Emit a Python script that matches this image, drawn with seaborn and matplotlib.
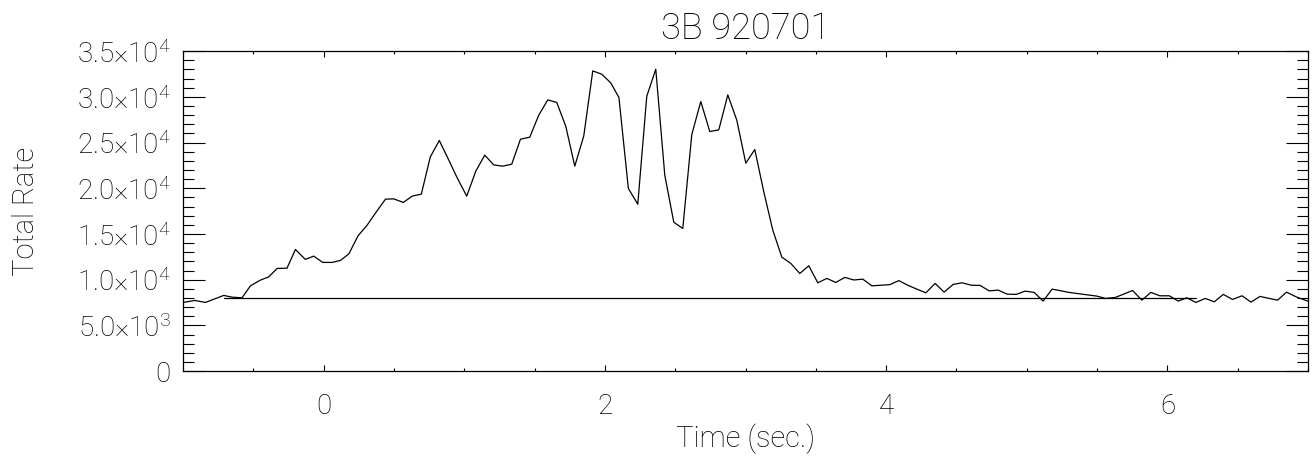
import matplotlib
matplotlib.use("Agg")
import matplotlib.pyplot as plt
import matplotlib.ticker as mticker
import numpy as np
import pandas as pd
import seaborn as sns

# light curve (64 ms bins)
time = [-1.00, -0.915, -0.84, -0.71, -0.65, -0.58, -0.52, -0.45, -0.39, -0.33,
        -0.26, -0.20, -0.13, -0.07, -0.006, 0.06, 0.12, 0.18, 0.245, 0.31,
        0.37, 0.44, 0.50, 0.567, 0.63, 0.695, 0.759, 0.823, 0.887, 0.95,
        1.018, 1.082, 1.146, 1.21, 1.274, 1.338, 1.40, 1.466, 1.53, 1.594,
        1.658, 1.722, 1.786, 1.85, 1.914, 1.978, 2.042, 2.10, 2.167, 2.234,
        2.298, 2.362, 2.426, 2.49, 2.554, 2.618, 2.682, 2.746, 2.81, 2.874,
        2.938, 3.002, 3.066, 3.13, 3.194, 3.258, 3.322, 3.386, 3.45, 3.514,
        3.578, 3.642, 3.706, 3.77, 3.834, 3.898, 3.962, 4.026, 4.09, 4.153,
        4.218, 4.282, 4.348, 4.412, 4.476, 4.54, 4.604, 4.668, 4.732, 4.796,
        4.86, 4.924, 4.988, 5.052, 5.116, 5.18, 5.30, 5.50, 5.56, 5.63,
        5.688, 5.752, 5.818, 5.882, 5.946, 6.013, 6.077, 6.138, 6.202, 6.269,
        6.333, 6.397, 6.463, 6.53, 6.594, 6.658, 6.724, 6.783, 6.847, 6.914,
        6.997]
rate = [7510, 7730, 7510, 8280, 8090, 8020, 9330, 9950, 10310, 11230,
        11260, 13310, 12220, 12580, 11890, 11890, 12110, 12830, 14800, 15970,
        17310, 18810, 18840, 18450, 19140, 19360, 23440, 25230, 23190, 21140,
        19140, 21870, 23620, 22560, 22420, 22640, 25370, 25590, 28000, 29670,
        29390, 26790, 22420, 25730, 32840, 32480, 31530, 29930, 19980, 18260,
        30070, 33030, 21430, 16290, 15600, 25880, 29490, 26210, 26390, 30220,
        27450, 22750, 24240, 19610, 15420, 12470, 11780, 10680, 11520, 9660,
        10140, 9700, 10250, 9970, 10060, 9330, 9390, 9460, 9900, 9400,
        8970, 8560, 9590, 8640, 9480, 9660, 9400, 9370, 8780, 8860,
        8420, 8390, 8750, 8610, 7660, 8970, 8610, 8200, 7950, 8060,
        8420, 8820, 7760, 8610, 8240, 8240, 7660, 8020, 7510, 7950,
        7580, 8390, 7840, 8240, 7550, 8170, 7950, 7760, 8640, 8130,
        7660]

# background level and the interval it was fitted over
bg_time = [-0.71, 6.20]
bg_rate = [7950, 7950]

df = pd.DataFrame({"time": time, "rate": rate})
bg = pd.DataFrame({"time": bg_time, "rate": bg_rate})

sns.set_style("ticks")
plt.rcParams["font.family"] = ["Roboto", "DejaVu Sans"]
plt.rcParams["font.weight"] = "light"
plt.rcParams["mathtext.default"] = "regular"
plt.rcParams["text.color"] = "black"
plt.rcParams["axes.labelcolor"] = "black"
plt.rcParams["xtick.labelcolor"] = "black"
plt.rcParams["ytick.labelcolor"] = "black"

fig = plt.figure(figsize=(13.16, 4.61), dpi=100)
ax = fig.add_axes([0.139, 0.195, 0.855, 0.694])

sns.lineplot(data=df, x="time", y="rate", color="black", lw=0.9,
             estimator=None, ax=ax)
sns.lineplot(data=bg, x="time", y="rate", color="black", lw=0.9,
             estimator=None, ax=ax)

ax.set_xlim(-1, 7)
ax.set_ylim(0, 35000)


def rate_fmt(v, pos):
    if v <= 0:
        return "0"
    exp = int(np.floor(np.log10(v)))
    return "%.1f\u00d710$^{%d}$" % (v / 10 ** exp, exp)


ax.xaxis.set_major_locator(mticker.MultipleLocator(2))
ax.xaxis.set_minor_locator(mticker.MultipleLocator(0.5))
ax.yaxis.set_major_locator(mticker.MultipleLocator(5000))
ax.yaxis.set_minor_locator(mticker.MultipleLocator(1000))
ax.yaxis.set_major_formatter(mticker.FuncFormatter(rate_fmt))

ax.tick_params(axis="both", which="both", direction="in", top=True, right=True,
               color="black", width=0.8)
ax.tick_params(axis="x", which="major", length=4.5, pad=16, labelsize=20)
ax.tick_params(axis="x", which="minor", length=2.2)
ax.tick_params(axis="y", which="major", length=16, pad=9, labelsize=20)
ax.tick_params(axis="y", which="minor", length=8)

for sp in ax.spines.values():
    sp.set_color("black")
    sp.set_linewidth(0.9)

ax.set_xlabel("Time (sec.)", fontsize=21, fontweight="light")
ax.set_ylabel("Total Rate", fontsize=21, fontweight="light")
ax.xaxis.set_label_coords(0.5, -0.165)
ax.yaxis.set_label_coords(-0.127, 0.5)
ax.set_title("3B 920701", fontsize=26, fontweight="light", pad=9)

fig.savefig("out.png", dpi=100)
